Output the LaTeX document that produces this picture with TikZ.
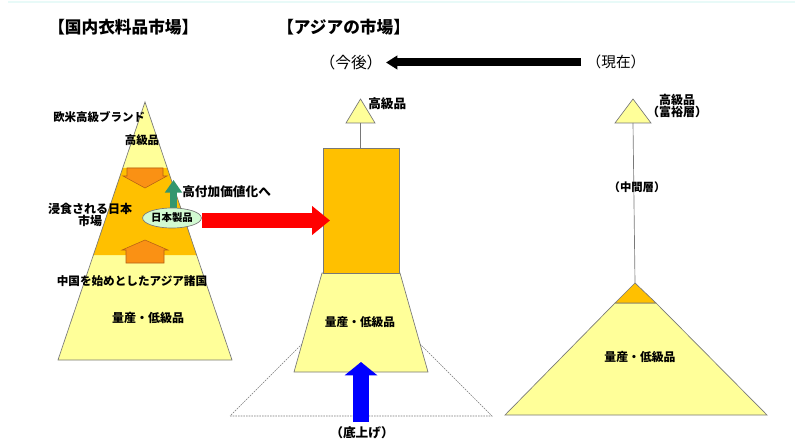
\documentclass[tikz,border=0pt]{standalone}
\usepackage{fontspec}
\setmainfont{Noto Sans CJK JP}
\usetikzlibrary{shapes.geometric,arrows.meta}
\definecolor{ly}{RGB}{255,255,153}
\definecolor{gold}{RGB}{255,192,0}
\definecolor{org}{RGB}{250,145,20}
\definecolor{orgline}{RGB}{180,95,20}
\definecolor{grn}{RGB}{51,150,110}
\definecolor{egrn}{RGB}{210,250,210}
\definecolor{outl}{RGB}{120,120,120}
\definecolor{topl}{RGB}{232,250,248}
\newcommand{\fs}[1]{\fontsize{#1}{#1}\selectfont}
\tikzset{
  shapeline/.style={draw=outl, line width=0.5pt},
  lbl/.style={inner sep=0pt, font=\bfseries\fs{8.6pt}},
  ttl/.style={inner sep=0pt, font=\bfseries\fs{12.5pt}},
  orgarrow/.style={fill=org, draw=orgline, line width=0.4pt},
  blockarrow/.style={line cap=butt},
}
\begin{document}
\begin{tikzpicture}[x=0.75pt,y=-0.75pt]
\useasboundingbox (0,0) rectangle (795,445);
\fill[white] (0,0) rectangle (795,445);
\draw[topl, line width=1pt] (8,2) -- (795,2);

% titles
\node[ttl, anchor=west] (tdom) at (48,27) {【国内衣料品市場】};
\node[ttl, anchor=west] (tasia) at (277,27) {【アジアの市場】};
\node[inner sep=0pt, font=\fs{11.8pt}] (future) at (351,63) {（今後）};
\node[inner sep=0pt, font=\fs{11pt}] (now) at (616,62) {（現在）};
\coordinate (bkS) at (581,62.5);
\coordinate (bkE) at (386,62.5);
\draw[blockarrow, black, line width=6pt, -{Triangle[length=8.5pt,width=10pt]}] (bkS) -- (bkE);

% ---------------- left pyramid
\fill[ly] (145,102) -- (232,360) -- (58,360) -- cycle;
\fill[gold] (122.7,168) -- (167.3,168) -- (196.6,255) -- (93.4,255) -- cycle;
\draw[shapeline] (145,102) -- (232,360) -- (58,360) -- cycle;
\draw[orgarrow] (127,168) -- (163,168) -- (163,176) -- (167,176) -- (145,188) -- (123,176) -- (127,176) -- cycle;
\draw[orgarrow] (126,263) -- (164,263) -- (164,250) -- (168,250) -- (145,240) -- (122,250) -- (126,250) -- cycle;

\coordinate (gS) at (173.5,209);
\coordinate (gE) at (173.5,180);
\draw[blockarrow, grn, line width=5.5pt, -{Triangle[length=9.5pt,width=12.5pt]}] (gS) -- (gE);
\node[ellipse, draw=outl, line width=0.5pt, fill=egrn, minimum width=37.5pt, minimum height=15pt, inner sep=0pt, font=\bfseries\fs{7.8pt}] (jp) at (172,218) {日本製品};

\node[lbl, anchor=west] (brand) at (53,117) {欧米高級ブランド};
\node[lbl] (hiL) at (142,140) {高級品};
\node[lbl, align=center, font=\bfseries\fs{9pt}] (eroded) at (90,215) {浸食される日本\\市場};
\node[lbl, font=\bfseries\fs{9.5pt}, anchor=west] (hva) at (182,192) {高付加価値化へ};
\node[lbl, font=\bfseries\fs{8.7pt}] (asia) at (132,281) {中国を始めとしたアジア諸国};
\node[lbl, font=\bfseries\fs{9pt}] (lowL) at (148,318) {量産・低級品};

% ---------------- middle
\draw[dash pattern=on 1.2pt off 0.8pt, draw=outl, line width=0.5pt] (230,416) -- (492,416) -- (361,285) -- cycle;
\draw[shapeline, fill=ly] (346,123) -- (375,123) -- (360.5,99) -- cycle;
\draw[shapeline] (360.5,123) -- (360.5,148);
\draw[shapeline, fill=ly] (322,273) -- (400,273) -- (428,372) -- (294,372) -- cycle;
\node[draw=outl, line width=0.5pt, fill=gold, minimum width=57pt, minimum height=93.75pt, inner sep=0pt] (mrect) at (361,210.5) {};
\node[lbl, font=\bfseries\fs{9.5pt}, anchor=west] (hiM) at (368,104) {高級品};
\node[lbl, font=\bfseries\fs{8.8pt}] (lowM) at (360,322) {量産・低級品};

\coordinate (rE) at (330,220.5);
\draw[blockarrow, red, line width=11pt, -{Triangle[length=13.5pt,width=21pt]}] (jp.east |- rE) -- (rE);

\coordinate (bS) at (361,422);
\coordinate (bE) at (361,362);
\draw[blockarrow, blue, line width=12pt, -{Triangle[length=10pt,width=24pt]}] (bS) -- (bE);
\node[lbl, font=\bfseries\fs{9.5pt}] (raise) at (362,433) {（底上げ）};

% ---------------- right
\draw[shapeline, fill=ly] (615,123) -- (651,123) -- (633,99) -- cycle;
\draw[shapeline] (633,123) -- (635,283);
\draw[shapeline, fill=ly] (615,303) -- (656,303) -- (767,415) -- (505,415) -- cycle;
\draw[shapeline, fill=gold] (615,303) -- (656,303) -- (635,283) -- cycle;
\node[lbl, font=\bfseries\fs{9pt}, align=center] (hiR) at (677,106) {高級品\\（富裕層）};
\node[lbl, font=\bfseries\fs{8.5pt}] (mid) at (637,187) {（中間層）};
\node[lbl, font=\bfseries\fs{8.9pt}] (lowR) at (640,357) {量産・低級品};
\end{tikzpicture}
\end{document}
